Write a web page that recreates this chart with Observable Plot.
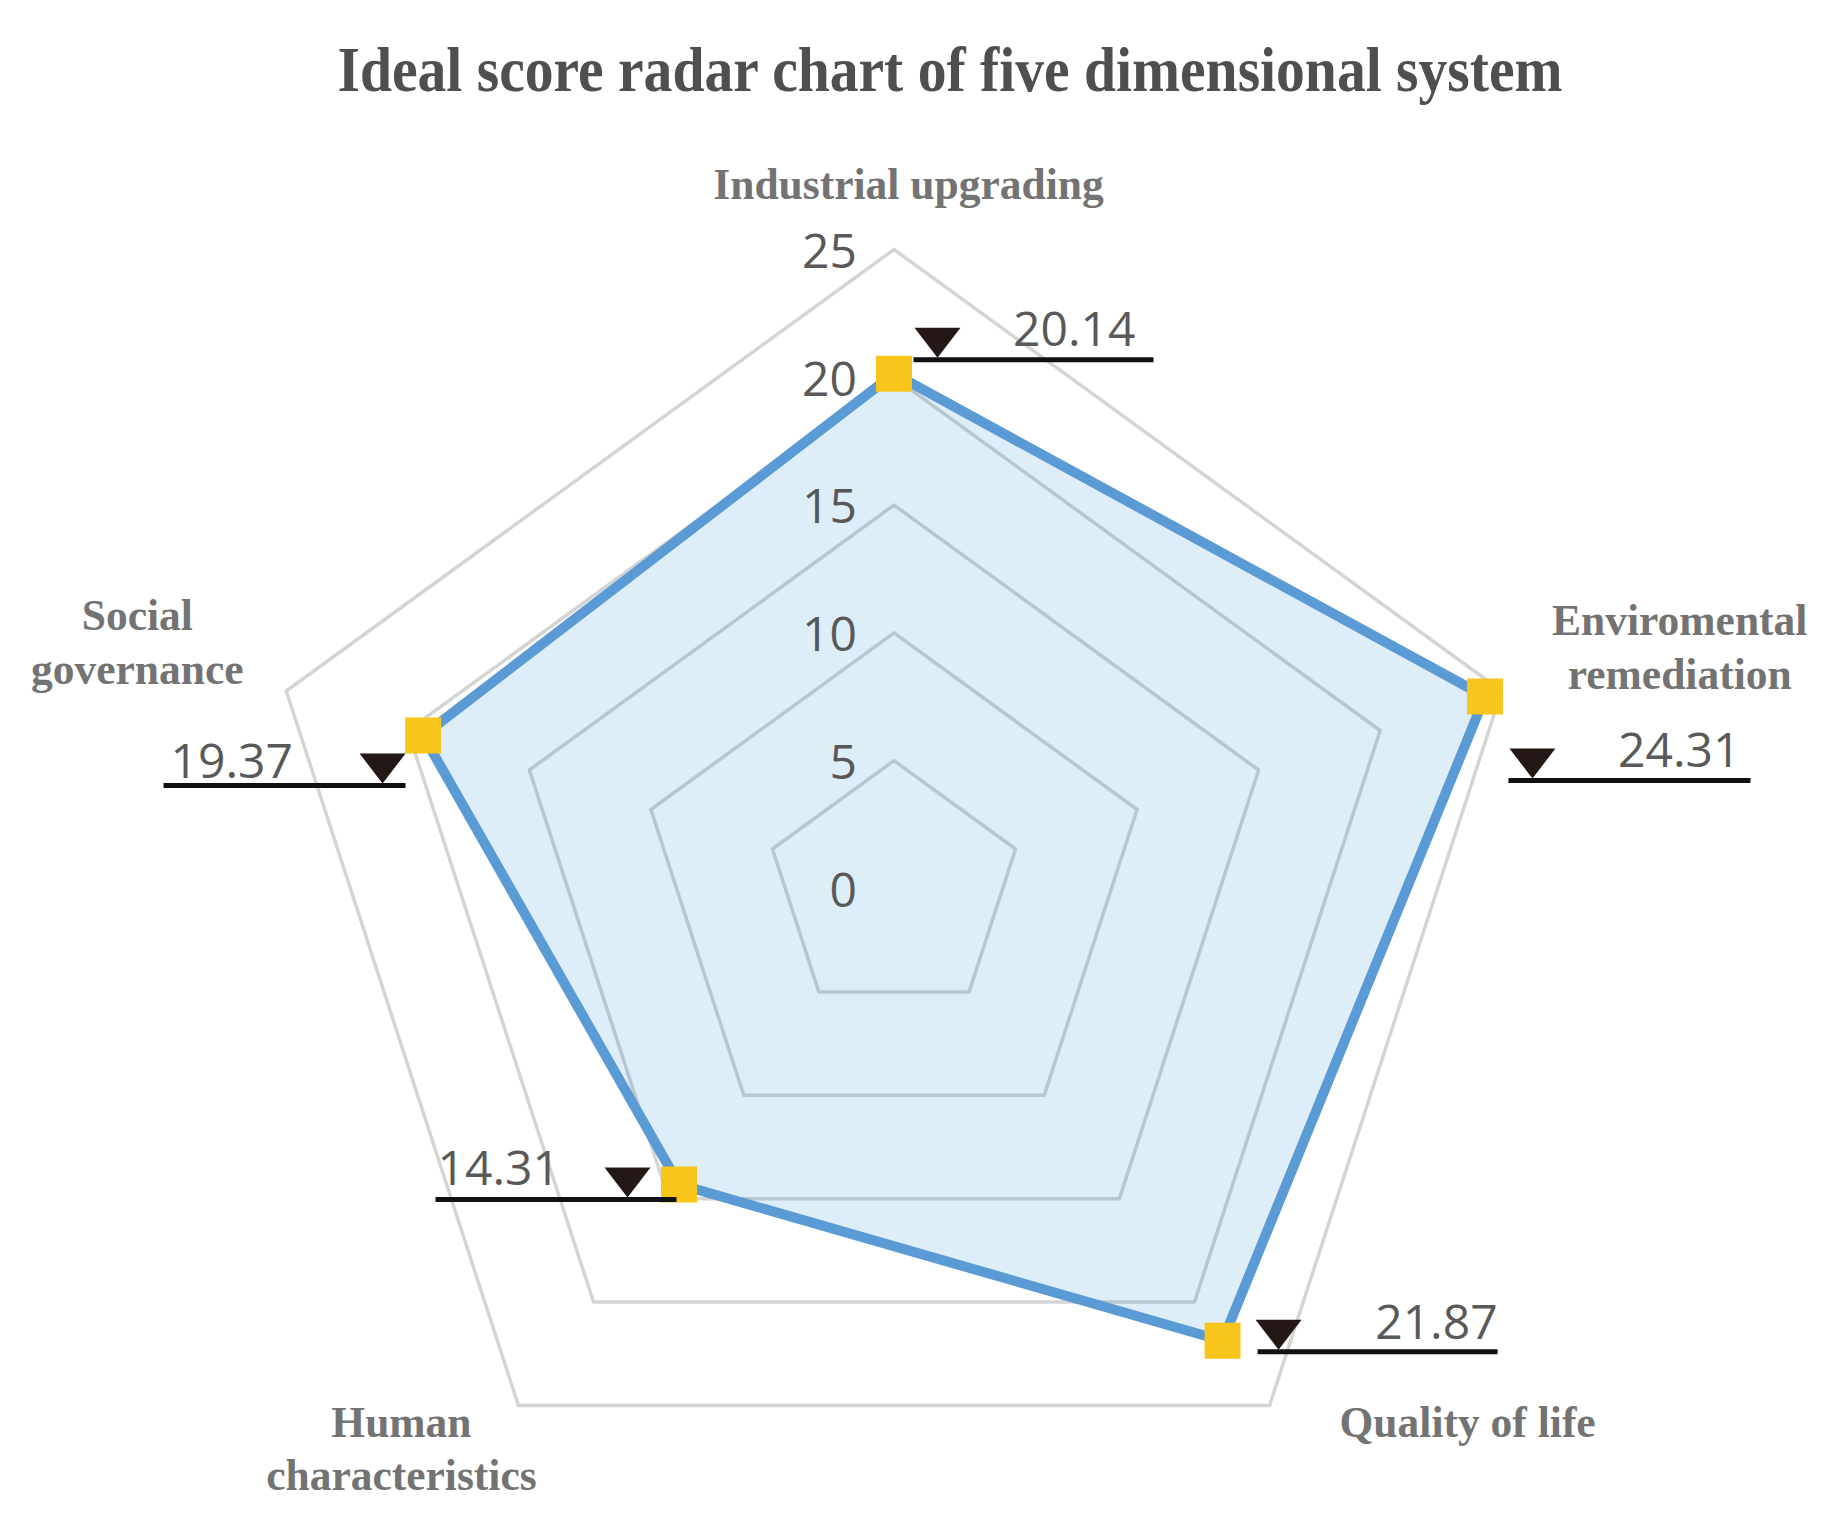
<!DOCTYPE html>
<html>
<head>
<meta charset="utf-8">
<script src="https://cdn.jsdelivr.net/npm/d3@7"></script>
<script src="https://cdn.jsdelivr.net/npm/@observablehq/plot@0.6"></script>
<style>
  html, body { margin: 0; padding: 0; background: #fff; overflow: hidden; }
  #title { position: relative; width: 1845px; height: 120px; }
  #title span {
    position: absolute; left: 950px; top: 38px;
    font: bold 64px "Liberation Serif", "Times New Roman", serif;
    line-height: 64px; color: #4f4f4f; white-space: nowrap;
    transform: translateX(-50%) scaleX(0.9); transform-origin: center;
  }
  #chart svg { display: block; }
</style>
</head>
<body>
<div id="title"><span>Ideal score radar chart of five dimensional system</span></div>
<div id="chart"></div>
<script>
// ---- data ----
const categories = ["Industrial upgrading", "Enviromental remediation", "Quality of life", "Human characteristics", "Social governance"];
const categoryLabels = ["Industrial upgrading", "Enviromental\nremediation", "Quality of life", "Human\ncharacteristics", "Social\ngovernance"];
const scores = [20.14, 24.31, 21.87, 14.31, 19.37];
const scoreLabels = ["20.14", "24.31", "21.87", "14.31", "19.37"];
const ringLevels = [5, 10, 15, 20, 25];
const tickValues = [0, 5, 10, 15, 20, 25];
const tickLabels = ["0", "5", "10", "15", "20", "25"];

// ---- layout (pixels) ----
const W = 1845, H = 1407;
const CX = 893.5, CY = 768, R = 639, MAX = 25;
const k = R / MAX; // px per unit
// axis label offsets from outer vertex: [dx, dy] in px (y down), baseline of last line, centered
const axisLabelOffset = [[14.5, -51], [178, -2.5], [198, 32], [-117, 85], [-149, -7.5]];
// value callouts relative to data point (px, y down)
const calloutLayout = [
  {line: [19.5, 259.5], dy: -14, tri: 43.5, text: 241.5, textDy: -28, anchor: "end"},
  {line: [23.5, 265.5], dy: 84, tri: 47.5, text: 255.5, textDy: 71, anchor: "end"},
  {line: [35, 275], dy: 11, tri: 56, text: 275, textDy: -2, anchor: "end"},
  {line: [-243.5, -2.5], dy: 15, tri: -51.5, text: -241.5, textDy: 1, anchor: "start"},
  {line: [-259.6, -17.6], dy: 50, tri: -40.6, text: -252.6, textDy: 42, anchor: "start"}
];

const angle = i => (i * 2 * Math.PI) / categories.length;
const polar = (v, i) => [v * Math.sin(angle(i)), v * Math.cos(angle(i))];

const rings = ringLevels.flatMap(level =>
  categories.map((c, i) => { const [x, y] = polar(level, i); return {level, x, y}; }));
const points = categories.map((c, i) => {
  const [x, y] = polar(scores[i], i);
  return {category: c, value: scores[i], label: scoreLabels[i], x, y, L: calloutLayout[i]};
});
const axisLabels = categories.map((c, i) => {
  const [x, y] = polar(MAX, i);
  const [ox, oy] = axisLabelOffset[i];
  return {text: categoryLabels[i], x: x + ox / k, y: y - oy / k};
});

const downTriangle = {
  draw(context) {
    const w = 23, h = 30;
    context.moveTo(0, 0);
    context.lineTo(-w, -h);
    context.lineTo(w, -h);
    context.closePath();
  }
};

const valueFont = "'Open Sans', 'Noto Sans', sans-serif";

const chart = Plot.plot({
  width: W,
  height: H,
  margin: 0,
  x: {domain: [-CX / k, (W - CX) / k], axis: null},
  y: {domain: [-(H - CY) / k, CY / k], axis: null},
  style: {background: "#fff", fontFamily: valueFont},
  marks: [
    Plot.line(points, {x: "x", y: "y", curve: "linear-closed", fill: "#ddeef9", stroke: "none"}),
    Plot.line(rings, {x: "x", y: "y", z: "level", curve: "linear-closed", stroke: "#000", strokeOpacity: 0.17, strokeWidth: 3.5}),
    Plot.line(points, {x: "x", y: "y", curve: "linear-closed", stroke: "#5b9bd5", strokeWidth: 10}),
    Plot.dot(points, {x: "x", y: "y", symbol: "square", r: 20.3, fill: "#f8c51c", stroke: "none"}),
    Plot.link(points, {
      x1: d => d.x + d.L.line[0] / k, y1: d => d.y - d.L.dy / k,
      x2: d => d.x + d.L.line[1] / k, y2: d => d.y - d.L.dy / k,
      stroke: "#111", strokeWidth: 5, strokeLinecap: "butt"
    }),
    Plot.dot(points, {
      x: d => d.x + d.L.tri / k, y: d => d.y - (d.L.dy - 2) / k,
      symbol: downTriangle, r: 10, fill: "#231815", stroke: "none"
    }),
    Plot.text(points.filter(d => d.L.anchor === "end"), {
      x: d => d.x + d.L.text / k, y: d => d.y - d.L.textDy / k, text: "label",
      textAnchor: "end", lineAnchor: "bottom", fontSize: 48, fill: "#595959", fontFamily: valueFont
    }),
    Plot.text(points.filter(d => d.L.anchor === "start"), {
      x: d => d.x + d.L.text / k, y: d => d.y - d.L.textDy / k, text: "label",
      textAnchor: "start", lineAnchor: "bottom", fontSize: 48, fill: "#595959", fontFamily: valueFont
    }),
    Plot.text(tickValues, {
      x: () => 0, y: d => d, text: (d, i) => tickLabels[i],
      textAnchor: "end", dx: -37, dy: 3, fontSize: 48, fill: "#595959", fontFamily: valueFont
    }),
    Plot.text(axisLabels, {
      x: "x", y: "y", text: "text", textAnchor: "middle", lineAnchor: "bottom", lineHeight: 1.22,
      fontSize: 43.5, fontWeight: "bold", fontFamily: "'Liberation Serif', 'Times New Roman', serif", fill: "#737373"
    })
  ]
});
document.getElementById("chart").appendChild(chart);
</script>
</body>
</html>
